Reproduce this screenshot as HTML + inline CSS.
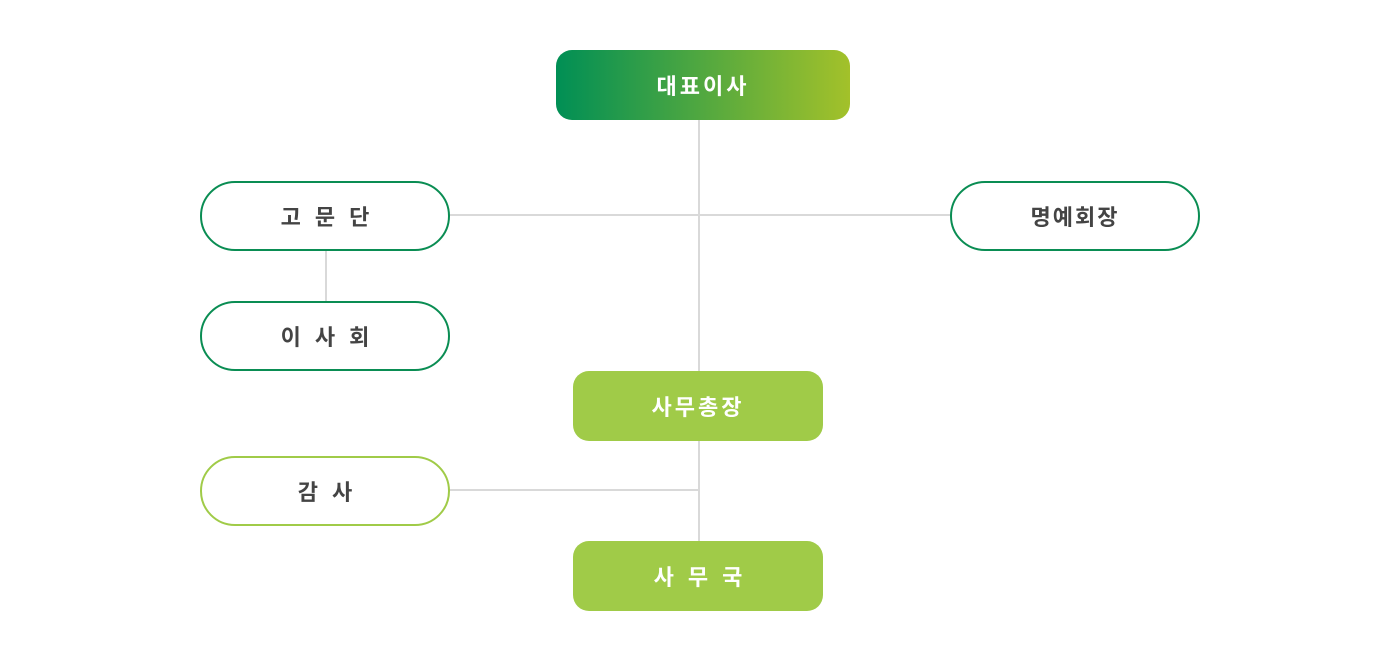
<!DOCTYPE html>
<html><head><meta charset="utf-8"><style>
body{margin:0;width:1400px;height:661px;background:#fff;position:relative;overflow:hidden;font-family:"Liberation Sans","Noto Sans CJK KR",sans-serif;}
.l{position:absolute;background:#d9d9d9}
.b{position:absolute;box-sizing:border-box;display:flex;align-items:center;justify-content:center;font-size:22px;font-weight:bold;}
.o{background:#fff;border:2px solid #0a8d53;border-radius:35px;color:#444;}
.g{background:#a0cb48;color:#fff;border-radius:16px;}
</style></head><body>
<div class="l" style="left:698px;top:120px;width:2px;height:421px"></div>
<div class="l" style="left:449px;top:214px;width:502px;height:2px"></div>
<div class="l" style="left:325px;top:250px;width:2px;height:52px"></div>
<div class="l" style="left:449px;top:489px;width:250px;height:2px"></div>
<div class="b" style="left:556px;top:50px;width:294px;height:70px;border-radius:16px;background:linear-gradient(90deg,#008f55,#a3c12a);color:#fff;letter-spacing:3px">대표이사</div>
<div class="b o" style="left:200px;top:181px;width:250px;height:70px;letter-spacing:14px;padding-left:14px">고문단</div>
<div class="b o" style="left:950px;top:181px;width:250px;height:70px;letter-spacing:2px">명예회장</div>
<div class="b o" style="left:200px;top:301px;width:250px;height:70px;letter-spacing:14px;padding-left:14px">이사회</div>
<div class="b o" style="left:200px;top:456px;width:250px;height:70px;border-color:#a0cb48;letter-spacing:14px;padding-left:14px">감사</div>
<div class="b g" style="left:573px;top:371px;width:250px;height:70px;letter-spacing:3px">사무총장</div>
<div class="b g" style="left:573px;top:541px;width:250px;height:70px;letter-spacing:14px;padding-left:14px">사무국</div>
</body></html>
